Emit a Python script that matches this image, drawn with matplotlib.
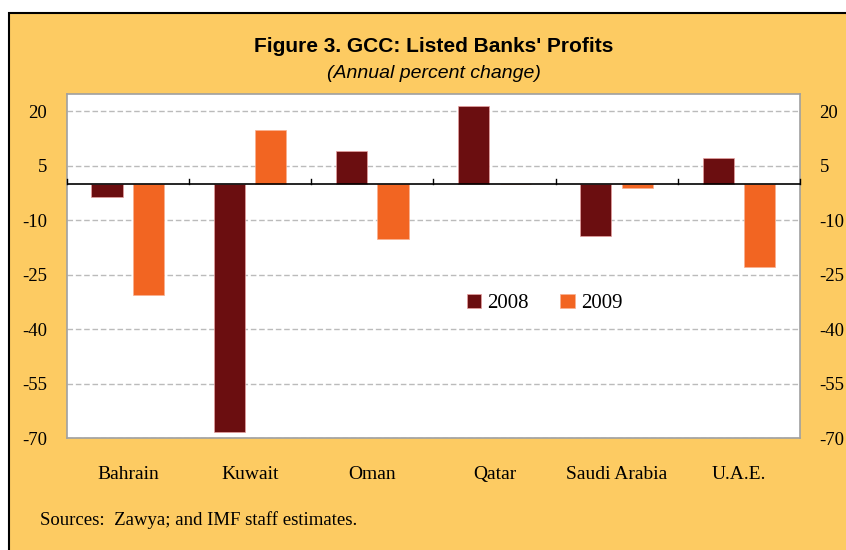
import numpy as np
import matplotlib.pyplot as plt
from matplotlib.patches import Rectangle

countries = ["Bahrain", "Kuwait", "Oman", "Qatar", "Saudi Arabia", "U.A.E."]
profits_2008 = [-3.7, -68.3, 9.0, 21.5, -14.5, 7.0]
profits_2009 = [-30.7, 14.9, -15.3, -0.2, -1.2, -22.8]
yticks = [20, 5, -10, -25, -40, -55, -70]

bg = "#FDCB62"
c2008 = "#6B0E10"
c2009 = "#F26522"
serif = ["Liberation Serif", "DejaVu Serif"]
sans = ["Liberation Sans", "DejaVu Sans"]
plt.rcParams["axes.unicode_minus"] = False

fig = plt.figure(figsize=(8.46, 5.5), dpi=100)
fig.patch.set_facecolor("white")
# orange panel with black frame
fig.patches.append(Rectangle((8.6 / 846, -0.01), 1, 1.01 - 13.3 / 550, transform=fig.transFigure,
                             facecolor=bg, edgecolor="black", linewidth=1.5, zorder=-5))

ax = fig.add_axes([66.7 / 846, 1 - 438.3 / 550, (800 - 66.7) / 846, (438.3 - 94.3) / 550])
ax.set_zorder(2)
ax.set_facecolor("white")

x = np.arange(len(countries))
w = 0.255
ax.bar(x - 0.17, profits_2008, w, color=c2008, edgecolor="#E8A0A0", linewidth=0.5, label="2008", zorder=3)
ax.bar(x + 0.17, profits_2009, w, color=c2009, edgecolor="#F8B090", linewidth=0.5, label="2009", zorder=3)

ax.set_xlim(-0.5, len(countries) - 0.5)
ax.set_ylim(-70, 24.6)
ax.set_yticks(yticks)
ax.yaxis.grid(True, color="#BBBBBB", linestyle=(0, (4, 2)), linewidth=1)
ax.set_axisbelow(True)
ax.tick_params(axis="y", length=0, labelsize=13.5, pad=14, labelleft=True, labelright=True,
               left=False, right=False)
for t in ax.yaxis.get_major_ticks():
    t.label1.set_family(serif)
    t.label2.set_family(serif)

# zero line with ticks at category boundaries
ax.axhline(0, color="black", linewidth=1.2, zorder=4)
for b in np.arange(-0.5, len(countries) + 0.5, 1):
    ax.plot([b, b], [0, 1.4], color="black", linewidth=1, zorder=4, clip_on=False)

ax.set_xticks(x)
ax.set_xticklabels(countries, family=serif, fontsize=14)
ax.tick_params(axis="x", length=0, pad=20)

for s in ax.spines.values():
    s.set_color("#A0A0A0")
    s.set_linewidth(1.2)

ax.legend(loc="upper left", bbox_to_anchor=(0.52, 0.475), ncol=2, frameon=False,
          prop={"family": serif, "size": 15}, handlelength=0.7, handleheight=0.7,
          handletextpad=0.3, columnspacing=1.5)

fig.text(434 / 846, 1 - 46 / 550, "Figure 3. GCC: Listed Banks' Profits", ha="center", va="center",
         family=sans, fontsize=15, fontweight="bold")
fig.text(434 / 846, 1 - 73 / 550, "(Annual percent change)", ha="center", va="center",
         family=sans, fontsize=14, style="italic")
fig.text(40 / 846, 1 - 520 / 550, "Sources:  Zawya; and IMF staff estimates.", ha="left", va="center",
         family=serif, fontsize=13.5)

fig.savefig("out.png", dpi=100, facecolor=fig.get_facecolor())
